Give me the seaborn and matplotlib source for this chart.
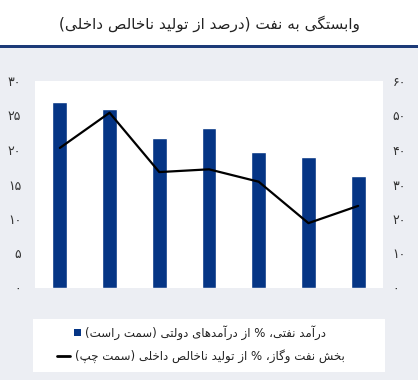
import matplotlib
matplotlib.use("Agg")
import matplotlib.pyplot as plt
import matplotlib.patches as mpatches
import matplotlib.lines as mlines
import seaborn as sns
import pandas as pd

# data
years = ["2010", "2011", "2012", "2013", "2014", "2015", "2016"]
oil_revenue = [54.0, 52.0, 43.5, 46.5, 39.5, 38.0, 32.5]   # bars, right axis
oil_gas_gdp = [20.3, 25.4, 16.8, 17.2, 15.4, 9.4, 11.9]    # line, left axis
left_ticks = [0, 5, 10, 15, 20, 25, 30]
right_ticks = [0, 10, 20, 30, 40, 50, 60]

title = "وابستگی به نفت (درصد از تولید ناخالص داخلی)"
bar_label = "درآمد نفتی، % از درآمدهای دولتی (سمت راست)"
line_label = "بخش نفت وگاز، % از تولید ناخالص داخلی (سمت چپ)"

BAR_COLOR = "#053585"
BG = "#eceef3"

# minimal Persian shaping: (isolated, final, initial, medial)
FORMS = {
    "ا": ("\uFE8D", "\uFE8E", None, None),
    "آ": ("\uFE81", "\uFE82", None, None),
    "ب": ("\uFE8F", "\uFE90", "\uFE91", "\uFE92"),
    "پ": ("\uFB56", "\uFB57", "\uFB58", "\uFB59"),
    "ت": ("\uFE95", "\uFE96", "\uFE97", "\uFE98"),
    "ث": ("\uFE99", "\uFE9A", "\uFE9B", "\uFE9C"),
    "ج": ("\uFE9D", "\uFE9E", "\uFE9F", "\uFEA0"),
    "چ": ("\uFB7A", "\uFB7B", "\uFB7C", "\uFB7D"),
    "ح": ("\uFEA1", "\uFEA2", "\uFEA3", "\uFEA4"),
    "خ": ("\uFEA5", "\uFEA6", "\uFEA7", "\uFEA8"),
    "د": ("\uFEA9", "\uFEAA", None, None),
    "ذ": ("\uFEAB", "\uFEAC", None, None),
    "ر": ("\uFEAD", "\uFEAE", None, None),
    "ز": ("\uFEAF", "\uFEB0", None, None),
    "ژ": ("\uFB8A", "\uFB8B", None, None),
    "س": ("\uFEB1", "\uFEB2", "\uFEB3", "\uFEB4"),
    "ش": ("\uFEB5", "\uFEB6", "\uFEB7", "\uFEB8"),
    "ص": ("\uFEB9", "\uFEBA", "\uFEBB", "\uFEBC"),
    "ض": ("\uFEBD", "\uFEBE", "\uFEBF", "\uFEC0"),
    "ط": ("\uFEC1", "\uFEC2", "\uFEC3", "\uFEC4"),
    "ظ": ("\uFEC5", "\uFEC6", "\uFEC7", "\uFEC8"),
    "ع": ("\uFEC9", "\uFECA", "\uFECB", "\uFECC"),
    "غ": ("\uFECD", "\uFECE", "\uFECF", "\uFED0"),
    "ف": ("\uFED1", "\uFED2", "\uFED3", "\uFED4"),
    "ق": ("\uFED5", "\uFED6", "\uFED7", "\uFED8"),
    "ک": ("\uFB8E", "\uFB8F", "\uFB90", "\uFB91"),
    "گ": ("\uFB92", "\uFB93", "\uFB94", "\uFB95"),
    "ل": ("\uFEDD", "\uFEDE", "\uFEDF", "\uFEE0"),
    "م": ("\uFEE1", "\uFEE2", "\uFEE3", "\uFEE4"),
    "ن": ("\uFEE5", "\uFEE6", "\uFEE7", "\uFEE8"),
    "ه": ("\uFEE9", "\uFEEA", "\uFEEB", "\uFEEC"),
    "و": ("\uFEED", "\uFEEE", None, None),
    "ی": ("\uFBFC", "\uFBFD", "\uFBFE", "\uFBFF"),
}
MIRROR = {"(": ")", ")": "("}


def fa(text):
    out = []
    for i, ch in enumerate(text):
        if ch not in FORMS:
            out.append(ch)
            continue
        prev = text[i - 1] if i > 0 else ""
        nxt = text[i + 1] if i + 1 < len(text) else ""
        joins_prev = prev in FORMS and FORMS[prev][2] is not None
        joins_next = FORMS[ch][2] is not None and nxt in FORMS
        iso, fin, ini, med = FORMS[ch]
        if joins_prev and joins_next:
            out.append(med)
        elif joins_prev:
            out.append(fin)
        elif joins_next:
            out.append(ini)
        else:
            out.append(iso)
    return "".join(MIRROR.get(c, c) for c in reversed(out))


def fa_digits(s):
    return "".join(chr(0x06F0 + int(c)) if c.isdigit() else c for c in str(s))


sns.set_style("white")
plt.rcParams["font.family"] = ["DejaVu Sans"]

df = pd.DataFrame({"year": years, "oil_revenue": oil_revenue, "oil_gas_gdp": oil_gas_gdp})

fig = plt.figure(figsize=(4.18, 3.80), dpi=100, facecolor=BG)

# white title band and blue rule
fig.patches.append(mpatches.Rectangle((0, 1 - 45 / 380), 1, 45 / 380, transform=fig.transFigure,
                                      facecolor="white", edgecolor="none", zorder=0))
fig.patches.append(mpatches.Rectangle((0, 1 - 48 / 380), 1, 3 / 380, transform=fig.transFigure,
                                      facecolor="#1c3a78", edgecolor="none", zorder=1))
fig.text(0.5, 1 - 24 / 380, fa(title), ha="center", va="center", fontsize=11, color="#222222")

ax = fig.add_axes([35 / 418, 1 - 288 / 380, 348 / 418, 207 / 380])
ax2 = ax.twinx()

sns.barplot(data=df, x="year", y="oil_revenue", ax=ax2, color=BAR_COLOR, width=0.3, saturation=1)
sns.lineplot(data=df, x="year", y="oil_gas_gdp", ax=ax, color="black", linewidth=1.6)

ax.set_zorder(ax2.get_zorder() + 1)
ax.patch.set_visible(False)
ax2.set_facecolor("white")
ax2.patch.set_visible(True)

ax.set_ylim(0, 30)
ax2.set_ylim(0, 60)
ax.set_xlim(-0.5, 6.5)
ax.set_yticks(left_ticks)
ax.set_yticklabels([fa_digits(t) for t in left_ticks])
ax2.set_yticks(right_ticks)
ax2.set_yticklabels([fa_digits(t) for t in right_ticks])
ax.set_xticks(range(len(years)))
ax.set_xticklabels([fa_digits(y) for y in years])
for a in (ax, ax2):
    a.set_xlabel("")
    a.set_ylabel("")
    for s in a.spines.values():
        s.set_visible(False)
    a.tick_params(length=0, labelsize=9, colors="#333333")
ax.tick_params(axis="y", pad=10)
ax2.tick_params(axis="y", pad=7)
ax.tick_params(axis="x", pad=6)
ax2.set_xticks([])
ax2.grid(False)
ax.grid(False)

# legend box
lax = fig.add_axes([33 / 418, 8 / 380, 352 / 418, 53 / 380])
lax.set_xlim(0, 352)
lax.set_ylim(53, 0)
lax.set_facecolor("white")
for s in lax.spines.values():
    s.set_visible(False)
lax.set_xticks([])
lax.set_yticks([])
lax.add_patch(mpatches.Rectangle((41, 10), 7, 7, facecolor=BAR_COLOR, edgecolor="none"))
lax.text(52, 14, fa(bar_label), ha="left", va="center", fontsize=8.5, color="#222222")
lax.add_line(mlines.Line2D([24, 37], [37, 37], color="black", linewidth=2))
lax.text(42, 37, fa(line_label), ha="left", va="center", fontsize=8.5, color="#222222")

fig.savefig("out.png", dpi=100, facecolor=BG)
